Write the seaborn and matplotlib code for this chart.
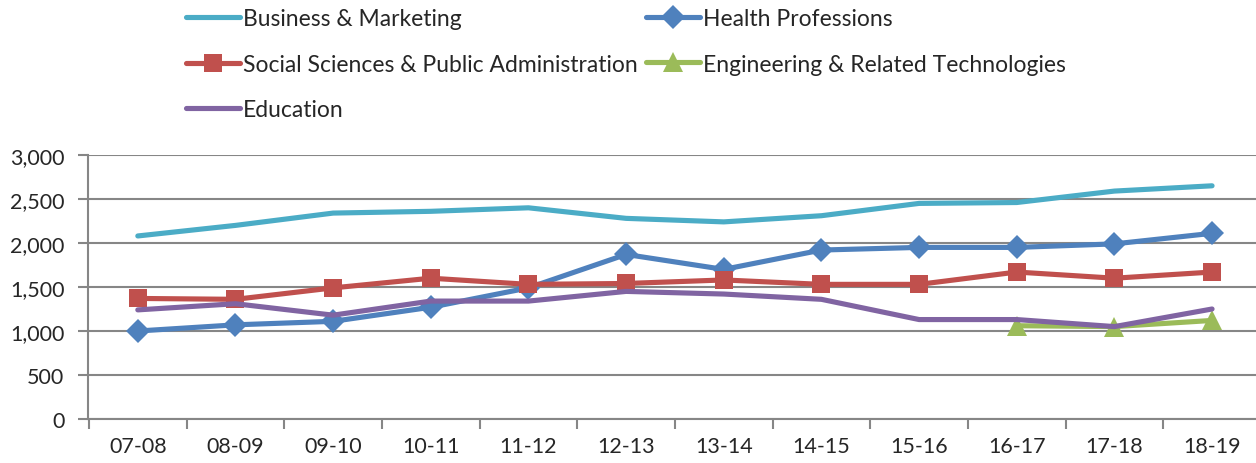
import numpy as np
import pandas as pd
import matplotlib.pyplot as plt
import seaborn as sns
from matplotlib.ticker import FuncFormatter

# values
years = ['07-08', '08-09', '09-10', '10-11', '11-12', '12-13',
         '13-14', '14-15', '15-16', '16-17', '17-18', '18-19']
business = [2080, 2200, 2340, 2360, 2400, 2280, 2240, 2310, 2450, 2460, 2590, 2650]
health = [1000, 1070, 1110, 1270, 1490, 1870, 1700, 1920, 1950, 1950, 1990, 2110]
social = [1370, 1360, 1490, 1600, 1530, 1540, 1580, 1530, 1530, 1670, 1600, 1670]
engineering = [np.nan] * 9 + [1060, 1050, 1120]
education = [1240, 1310, 1180, 1340, 1340, 1450, 1420, 1360, 1130, 1130, 1050, 1250]

names = ['Business & Marketing', 'Health Professions',
         'Social Sciences & Public Administration',
         'Engineering & Related Technologies', 'Education']
series = [business, health, social, engineering, education]
colors = ['#4BACC6', '#4F81BD', '#C0504D', '#9BBB59', '#8064A2']
markers = [None, 'D', 's', '^', None]
msizes = [0, 12, 13, 14, 0]

sns.set_style('white')
plt.rcParams['font.family'] = ['Lato', 'DejaVu Sans']

fig = plt.figure(figsize=(12.56, 4.64), dpi=100)
ax = fig.add_axes([88 / 1256, 1 - 420 / 464, 1 - 88 / 1256, (420 - 156) / 464])

handles = {}
for name, vals, c, m, ms in zip(names, series, colors, markers, msizes):
    df = pd.DataFrame({'x': np.arange(len(years)), 'y': vals}).dropna()
    sns.lineplot(data=df, x='x', y='y', ax=ax, color=c, lw=3.7,
                 marker=m, markersize=ms, markeredgewidth=0,
                 solid_capstyle='round', label=name, legend=False)
    handles[name] = ax.lines[-1]

ax.set_xlim(-0.51, 11.45)
ax.set_ylim(0, 3000)
ax.set_yticks(range(0, 3001, 500))
ax.yaxis.set_major_formatter(FuncFormatter(lambda v, p: f'{int(v):,}'))
ax.set_xticks(np.arange(len(years)))
ax.set_xticklabels(years)
ax.set_xticks(np.arange(len(years)) - 0.5, minor=True)
ax.set_xlabel('')
ax.set_ylabel('')

ax.grid(axis='y', color='#868686', lw=1.5)
ax.set_axisbelow(True)
for s in ['top', 'right']:
    ax.spines[s].set_visible(False)
for s in ['left', 'bottom']:
    ax.spines[s].set_color('#868686')
    ax.spines[s].set_linewidth(1.5)
ax.tick_params(axis='y', length=7, width=1.5, color='#868686', labelsize=15.5,
               pad=10, left=True)
ax.tick_params(axis='x', which='major', length=0, labelsize=15.5, pad=12)
ax.tick_params(axis='x', which='minor', length=7, width=1.5, color='#868686',
               bottom=True)

# legend in two columns placed like the original
col1 = [names[0], names[2], names[4]]
col2 = [names[1], names[3]]
kw = dict(frameon=False, fontsize=16.5, handlelength=2.35, handletextpad=0.15,
          labelspacing=1.07, borderaxespad=0, borderpad=0, loc='upper left')
leg1 = fig.legend([handles[n] for n in col1], col1,
                  bbox_to_anchor=(186 / 1256, 1 - 9 / 464), **kw)
leg2 = fig.legend([handles[n] for n in col2], col2,
                  bbox_to_anchor=(646 / 1256, 1 - 9 / 464), **kw)

fig.savefig('out.png', dpi=100)
